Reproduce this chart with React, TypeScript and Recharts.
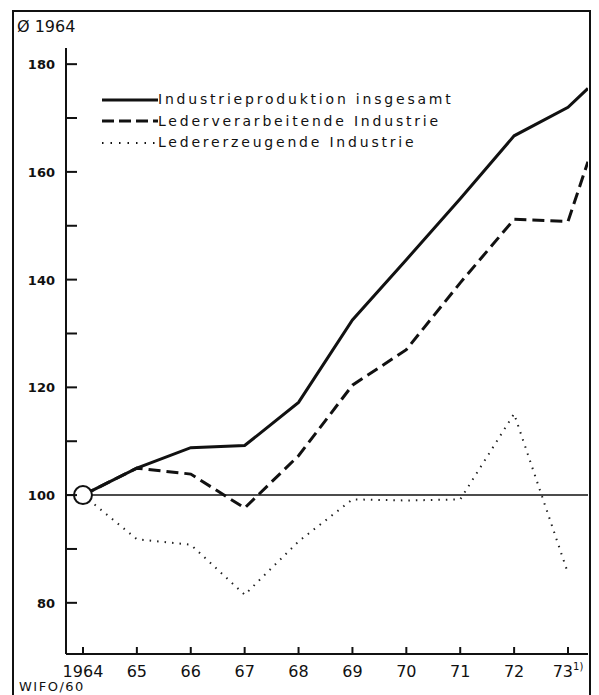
import { LineChart, Line, XAxis, YAxis, ReferenceLine, ReferenceDot } from "recharts";

// x positions: years, last point = 1973 preliminary value at right edge
const YEARS = [1964, 1965, 1966, 1967, 1968, 1969, 1970, 1971, 1972, 1973, 1973.37];
const GESAMT = [100, 105, 108.8, 109.2, 117.2, 132.5, 143.7, 155, 166.7, 172, 175.5];
const VERARBEITEND = [100, 105, 103.9, 97.6, 107.3, 120.4, 127, 139.4, 151.2, 150.8, 161.9];
const ERZEUGEND = [100, 91.8, 90.8, 81.5, 91.4, 99.2, 99, 99.2, 115.1, 85.5, null];

const X_TICKS = [1964, 1965, 1966, 1967, 1968, 1969, 1970, 1971, 1972, 1973];
const X_LABELS = ["1964", "65", "66", "67", "68", "69", "70", "71", "72", "73"];
const Y_TICKS = [80, 90, 100, 110, 120, 130, 140, 150, 160, 170, 180];

const data = YEARS.map((year, i) => ({
    year,
    gesamt: GESAMT[i],
    verarbeitend: VERARBEITEND[i],
    erzeugend: ERZEUGEND[i],
}));

const FONT = "'DejaVu Sans', sans-serif";
const INK = "#111";

const YTick = (props: any) => {
    const { x, y, payload } = props;
    return (
        <g>
            <line x1={x} x2={x + 11} y1={y} y2={y} stroke={INK} strokeWidth={2} />
            {payload.value % 20 === 0 && (
                <text x={x - 11} y={y} dy={5} textAnchor="end" fontSize={13} fontWeight="bold" fontFamily={FONT} fill={INK}>
                    {payload.value}
                </text>
            )}
        </g>
    );
};

const XTick = (props: any) => {
    const { x, y, payload } = props;
    const idx = X_TICKS.indexOf(payload.value);
    return (
        <g>
            <line x1={x} x2={x} y1={y} y2={y - 7} stroke={INK} strokeWidth={2} />
            <text x={x} y={y + 23} textAnchor="middle" fontSize={16} fontFamily={FONT} fill={INK}>
                {X_LABELS[idx]}
                {payload.value === 1973 && (
                    <tspan dy={-7} fontSize={10}>1)</tspan>
                )}
            </text>
        </g>
    );
};

const LEGEND = [
    { label: "Industrieproduktion insgesamt", dash: undefined, width: 3 },
    { label: "Lederverarbeitende Industrie", dash: "12 5", width: 3 },
    { label: "Ledererzeugende Industrie", dash: "1.5 7", width: 2 },
];

export default function App() {
    return (
        <div style={{ position: "relative", width: 599, height: 695, background: "#fff", overflow: "hidden", fontFamily: FONT }}>
            <style>{`body{margin:0}`}</style>
            {/* frame */}
            <div style={{ position: "absolute", left: 12, top: 10, width: 575, height: 700, borderLeft: `2px solid ${INK}`, borderTop: `2px solid ${INK}`, borderRight: `2px solid ${INK}` }} />
            <div style={{ position: "absolute", left: 17, top: 17, fontSize: 16, color: INK }}>Ø 1964</div>
            <div style={{ position: "absolute", left: 19, top: 679, fontSize: 13, letterSpacing: 1.5, color: INK }}>WIFO/60</div>

            <div style={{ position: "absolute", left: 0, top: 0 }}>
                <LineChart width={599} height={695} data={data} margin={{ top: 48, right: 11, bottom: 0, left: 0 }}>
                    <XAxis
                        dataKey="year"
                        type="number"
                        domain={[1963.685, 1973.371]}
                        ticks={X_TICKS}
                        allowDataOverflow
                        height={41}
                        axisLine={{ stroke: INK, strokeWidth: 2 }}
                        tickLine={false}
                        tickSize={0}
                        tickMargin={0}
                        tick={<XTick />}
                        interval={0}
                    />
                    <YAxis
                        type="number"
                        domain={[70.5, 183]}
                        ticks={Y_TICKS}
                        allowDataOverflow
                        width={66}
                        axisLine={{ stroke: INK, strokeWidth: 2 }}
                        tickLine={false}
                        tickSize={0}
                        tickMargin={0}
                        tick={<YTick />}
                        interval={0}
                    />
                    <ReferenceLine y={100} stroke={INK} strokeWidth={1.5} />
                    <Line dataKey="erzeugend" stroke="#222" strokeWidth={2} strokeDasharray="1.5 6" dot={false} isAnimationActive={false} connectNulls={false} />
                    <Line dataKey="verarbeitend" stroke={INK} strokeWidth={3} strokeDasharray="12 6" dot={false} isAnimationActive={false} />
                    <Line dataKey="gesamt" stroke={INK} strokeWidth={3} dot={false} isAnimationActive={false} />
                    <ReferenceDot x={1964} y={100} r={9} fill="#fff" stroke={INK} strokeWidth={2} />
                </LineChart>
            </div>

            {/* legend */}
            <div style={{ position: "absolute", left: 102, top: 89 }}>
                {LEGEND.map((item) => (
                    <div key={item.label} style={{ display: "flex", alignItems: "center", height: 21.5 }}>
                        <svg width={56} height={10}>
                            <line x1={0} x2={56} y1={5} y2={5} stroke={INK} strokeWidth={item.width} strokeDasharray={item.dash} />
                        </svg>
                        <span style={{ fontSize: 14, letterSpacing: 2.8, color: INK, lineHeight: "21px" }}>{item.label}</span>
                    </div>
                ))}
            </div>
        </div>
    );
}
